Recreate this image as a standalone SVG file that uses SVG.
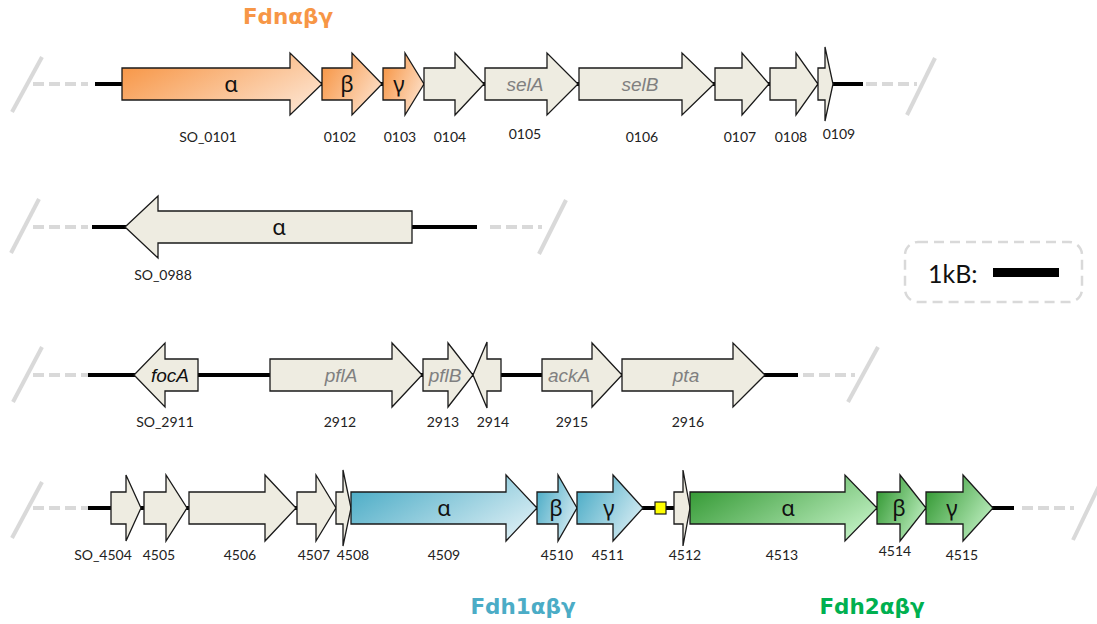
<svg xmlns="http://www.w3.org/2000/svg" width="1097" height="624" viewBox="0 0 1097 624">
<defs>
<linearGradient id="gOr" x1="0" y1="0.2" x2="1" y2="0.8"><stop offset="0" stop-color="#F79646"/><stop offset="1" stop-color="#FDE4D0"/></linearGradient>
<linearGradient id="gBl" x1="0" y1="0.2" x2="1" y2="0.8"><stop offset="0" stop-color="#4BACC6"/><stop offset="1" stop-color="#DDEFF5"/></linearGradient>
<linearGradient id="gGr" x1="0" y1="0.2" x2="1" y2="0.8"><stop offset="0" stop-color="#339933"/><stop offset="1" stop-color="#C4F2C6"/></linearGradient>
</defs>
<style>
.slash{stroke:#d9d9d9;stroke-width:4;fill:none}
.dash{stroke:#d9d9d9;stroke-width:4;stroke-dasharray:11 5;fill:none}
.bb{stroke:#000;stroke-width:4;fill:none}
.gene{stroke:#1a1a1a;stroke-width:1.3;stroke-linejoin:miter}
.gray{fill:#EEECE1}
.or{fill:url(#gOr)}
.bl{fill:url(#gBl)}
.gr{fill:url(#gGr)}
.lbl{font-family:Lato,"Liberation Sans",sans-serif;font-size:14px;fill:#222;text-anchor:middle}
.gk{font-family:"Noto Sans","DejaVu Sans",sans-serif;font-size:22px;fill:#111;text-anchor:middle}
.it{font-family:"Liberation Sans",Arial,sans-serif;font-style:italic;font-size:19px;fill:#808080;text-anchor:middle}
.itb{font-family:"Liberation Sans",Arial,sans-serif;font-style:italic;font-size:19px;fill:#111;text-anchor:middle}
.ttl{font-family:"DejaVu Sans","Liberation Sans",sans-serif;font-weight:bold;font-size:21.5px;text-anchor:middle}
</style>

<g id="connectors">
<!-- row 1 -->
<line class="slash" x1="12" y1="112" x2="42" y2="57"/>
<line class="dash" x1="33" y1="84" x2="88" y2="84"/>
<line class="bb" x1="95" y1="84" x2="863" y2="84"/>
<line class="dash" x1="866" y1="84" x2="917" y2="84"/>
<line class="slash" x1="907" y1="115" x2="935" y2="58"/>
<!-- row 2 -->
<line class="slash" x1="11" y1="253" x2="39" y2="199"/>
<line class="dash" x1="33" y1="227" x2="88" y2="227"/>
<line class="bb" x1="92" y1="227" x2="477" y2="227"/>
<line class="dash" x1="490" y1="227" x2="542" y2="227"/>
<line class="slash" x1="539" y1="254" x2="566" y2="200"/>
<!-- row 3 -->
<line class="slash" x1="13" y1="402" x2="42" y2="347"/>
<line class="dash" x1="33" y1="375" x2="88" y2="375"/>
<line class="bb" x1="88" y1="375" x2="798" y2="375"/>
<line class="dash" x1="803" y1="375" x2="855" y2="375"/>
<line class="slash" x1="848" y1="402" x2="878" y2="347"/>
<!-- row 4 -->
<line class="slash" x1="12" y1="538" x2="42" y2="482"/>
<line class="dash" x1="33" y1="508" x2="88" y2="508"/>
<line class="bb" x1="88" y1="508" x2="1014" y2="508"/>
<line class="dash" x1="1022" y1="508" x2="1074" y2="508"/>
<line class="slash" x1="1073" y1="540" x2="1100" y2="484"/>
</g>

<!-- Row 1 -->
<g id="SO_0101"><path class="gene or" d="M122 68H290V53L322 84L290 115V100H122Z"/><text class="gk" x="231" y="92">α</text><text class="lbl" x="208" y="142">SO_0101</text></g>
<g id="g0102"><path class="gene or" d="M322 68H352V53L382 84L352 115V100H322Z"/><text class="gk" x="347" y="92">β</text><text class="lbl" x="340" y="142">0102</text></g>
<g id="g0103"><path class="gene or" d="M383 68H405V53L424 84L405 115V100H383Z"/><text class="gk" x="399" y="92">γ</text><text class="lbl" x="400" y="142">0103</text></g>
<g id="g0104"><path class="gene gray" d="M424 68H455V53L484 84L455 115V100H424Z"/><text class="lbl" x="450" y="142">0104</text></g>
<g id="g0105"><path class="gene gray" d="M485 68H547V53L578 84L547 115V100H485Z"/><text class="it" x="525" y="91">selA</text><text class="lbl" x="525" y="139">0105</text></g>
<g id="g0106"><path class="gene gray" d="M579 68H682V53L714 84L682 115V100H579Z"/><text class="it" x="640" y="91">selB</text><text class="lbl" x="642" y="142">0106</text></g>
<g id="g0107"><path class="gene gray" d="M715 68H742V53L769 84L742 115V100H715Z"/><text class="lbl" x="740" y="142">0107</text></g>
<g id="g0108"><path class="gene gray" d="M770 68H796V53L818 84L796 115V100H770Z"/><text class="lbl" x="791" y="142">0108</text></g>
<g id="g0109"><path class="gene gray" d="M818 68H825V47L833 84L825 121V100H818Z"/><text class="lbl" x="839" y="139">0109</text></g>

<!-- Row 2 -->
<g id="SO_0988"><path class="gene gray" d="M412 211H158V196L125 227L158 258V243H412Z"/><text class="gk" x="279" y="235">α</text><text class="lbl" x="163" y="280">SO_0988</text></g>

<!-- Legend -->
<g id="legend"><rect x="905" y="242" width="177" height="60" rx="13" fill="none" stroke="#d9d9d9" stroke-width="2.5" stroke-dasharray="10 6"/><text x="928" y="283" font-family="Lato,'Liberation Sans',sans-serif" font-size="25" fill="#111">1kB:</text><rect x="993" y="268" width="66" height="9" fill="#000"/></g>

<!-- Row 3 -->
<g id="SO_2911"><path class="gene gray" d="M198 359H165V343L134 375L165 407V391H198Z"/><text class="itb" x="170" y="382">focA</text><text class="lbl" x="165" y="427">SO_2911</text></g>
<g id="g2912"><path class="gene gray" d="M270 359H392V343L422 375L392 407V391H270Z"/><text class="it" x="341" y="382">pflA</text><text class="lbl" x="340" y="427">2912</text></g>
<g id="g2913"><path class="gene gray" d="M423 359H448V343L473 375L448 407V391H423Z"/><text class="it" x="445" y="382">pflB</text><text class="lbl" x="443" y="427">2913</text></g>
<g id="g2914"><path class="gene gray" d="M501 359H487V342L473 375L487 408V391H501Z"/><text class="lbl" x="493" y="427">2914</text></g>
<g id="g2915"><path class="gene gray" d="M542 359H592V343L622 375L592 407V391H542Z"/><text class="it" x="569" y="382">ackA</text><text class="lbl" x="572" y="427">2915</text></g>
<g id="g2916"><path class="gene gray" d="M622 359H733V343L765 375L733 407V391H622Z"/><text class="it" x="686" y="382">pta</text><text class="lbl" x="688" y="427">2916</text></g>

<!-- Row 4 -->
<g id="SO_4504"><path class="gene gray" d="M111 492H126V475L141 508L126 541V524H111Z"/><text class="lbl" x="103" y="560">SO_4504</text></g>
<g id="g4505"><path class="gene gray" d="M144 492H166V475L187 508L166 541V524H144Z"/><text class="lbl" x="159" y="560">4505</text></g>
<g id="g4506"><path class="gene gray" d="M189 492H265V475L296 508L265 541V524H189Z"/><text class="lbl" x="240" y="560">4506</text></g>
<g id="g4507"><path class="gene gray" d="M297 492H316V475L336 508L316 541V524H297Z"/><text class="lbl" x="314" y="560">4507</text></g>
<g id="g4508"><path class="gene gray" d="M336 492H343V470L351 508L343 546V524H336Z"/><text class="lbl" x="353" y="560">4508</text></g>
<g id="g4509"><path class="gene bl" d="M351 492H506V475L537 508L506 541V524H351Z"/><text class="gk" x="444" y="516">α</text><text class="lbl" x="444" y="560">4509</text></g>
<g id="g4510"><path class="gene bl" d="M537 492H558V475L577 508L558 541V524H537Z"/><text class="gk" x="556" y="516">β</text><text class="lbl" x="557" y="560">4510</text></g>
<g id="g4511"><path class="gene bl" d="M577 492H613V475L643 508L613 541V524H577Z"/><text class="gk" x="609" y="516">γ</text><text class="lbl" x="608" y="560">4511</text></g>
<g id="site"><rect x="655" y="502" width="11" height="12" fill="#FFFF00" stroke="#1a1a1a" stroke-width="1.2"/></g>
<g id="g4512"><path class="gene gray" d="M674 492H683V470L690 508L683 546V524H674Z"/><text class="lbl" x="685" y="560">4512</text></g>
<g id="g4513"><path class="gene gr" d="M690 492H845V475L877 508L845 541V524H690Z"/><text class="gk" x="788" y="516">α</text><text class="lbl" x="782" y="560">4513</text></g>
<g id="g4514"><path class="gene gr" d="M877 492H900V475L926 508L900 541V524H877Z"/><text class="gk" x="899" y="516">β</text><text class="lbl" x="895" y="556">4514</text></g>
<g id="g4515"><path class="gene gr" d="M926 492H963V475L993 508L963 541V524H926Z"/><text class="gk" x="952" y="516">γ</text><text class="lbl" x="962" y="560">4515</text></g>

<!-- Titles -->
<g id="titles">
<text class="ttl" x="288" y="24" fill="#F79646">Fdnαβγ</text>
<text class="ttl" x="523" y="614" fill="#4BACC6">Fdh1αβγ</text>
<text class="ttl" x="872" y="614" fill="#00B050">Fdh2αβγ</text>
</g>
</svg>
